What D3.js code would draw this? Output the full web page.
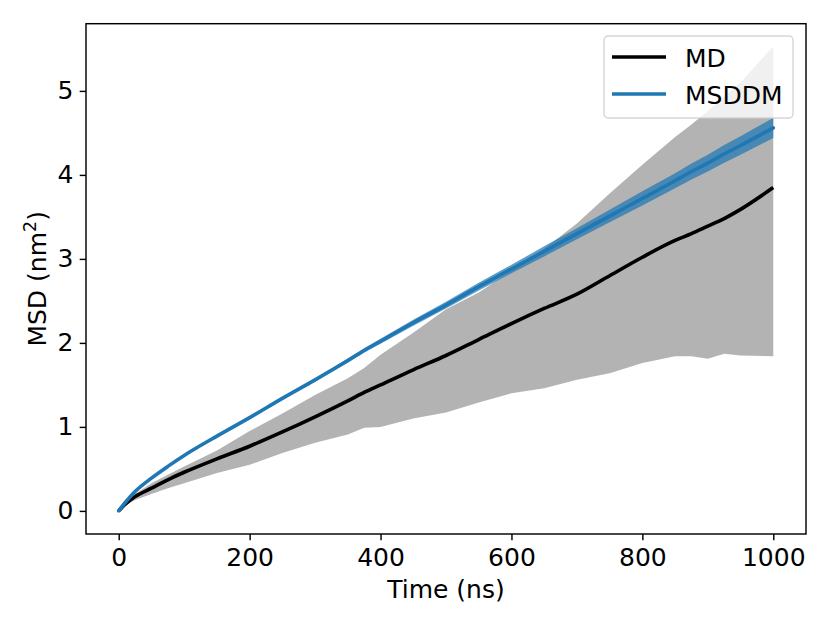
<!DOCTYPE html>
<html>
<head>
<meta charset="utf-8">
<script src="https://cdn.jsdelivr.net/npm/d3@7"></script>
<style>
  body { margin: 0; background: #fff; }
  svg { font-family: "DejaVu Sans", sans-serif; }
</style>
</head>
<body>
<svg id="chart" width="830" height="623"></svg>
<script>
// Time points (ns)
const times = [0, 10, 25, 50, 75, 100, 150, 200, 250, 300, 350, 375, 400, 450, 500,
               550, 600, 650, 700, 750, 800, 850, 875, 900, 925, 950, 1000];

// MD mean MSD and its spread (nm^2)
const mdMean  = [0, 0.08, 0.17, 0.27, 0.37, 0.46, 0.62, 0.77, 0.94, 1.12, 1.31, 1.41, 1.50, 1.68, 1.85,
                 2.04, 2.23, 2.41, 2.58, 2.80, 3.02, 3.22, 3.30, 3.39, 3.48, 3.59, 3.85];
const mdUpper = [0, 0.10, 0.20, 0.33, 0.43, 0.53, 0.72, 0.95, 1.16, 1.38, 1.58, 1.70, 1.86, 2.12, 2.40,
                 2.60, 2.86, 3.12, 3.42, 3.78, 4.12, 4.45, 4.60, 4.76, 4.93, 5.10, 5.53];
const mdLower = [0, 0.06, 0.13, 0.20, 0.27, 0.33, 0.45, 0.55, 0.69, 0.81, 0.91, 0.99, 1.00, 1.10, 1.17,
                 1.29, 1.40, 1.46, 1.56, 1.64, 1.76, 1.84, 1.84, 1.81, 1.87, 1.85, 1.84];

// MSDDM prediction and its band
const msddm   = [0, 0.10, 0.23, 0.39, 0.53, 0.66, 0.89, 1.11, 1.34, 1.56, 1.79, 1.91, 2.02, 2.24, 2.45,
                 2.67, 2.88, 3.09, 3.30, 3.51, 3.72, 3.93, 4.04, 4.14, 4.25, 4.35, 4.56];
const msddmHi = [0, 0.10, 0.23, 0.395, 0.535, 0.67, 0.90, 1.125, 1.355, 1.58, 1.815, 1.935, 2.05, 2.275, 2.49,
                 2.715, 2.93, 3.15, 3.365, 3.585, 3.805, 4.02, 4.135, 4.24, 4.355, 4.46, 4.68];
const msddmLo = [0, 0.10, 0.23, 0.385, 0.525, 0.65, 0.88, 1.095, 1.325, 1.54, 1.765, 1.885, 1.99, 2.205, 2.41,
                 2.625, 2.83, 3.03, 3.235, 3.435, 3.635, 3.84, 3.945, 4.04, 4.145, 4.24, 4.44];

const xTicks = [0, 200, 400, 600, 800, 1000];
const yTicks = [0, 1, 2, 3, 4, 5];
const seriesNames = ["MD", "MSDDM"];
const seriesColors = ["#000000", "#1f77b4"];

// Axes box in page pixels
const margin = { top: 23.7, right: 24, bottom: 89, left: 86 };
const W = 830, H = 623;
const w = W - margin.left - margin.right;
const h = H - margin.top - margin.bottom;
const fs = 25;
const lw = 3.6;

const svg = d3.select("#chart");
const g = svg.append("g")
    .attr("transform", "translate(" + margin.left + "," + margin.top + ")");

const x = d3.scaleLinear().domain([-50, 1050]).range([0, w]);
const y = d3.scaleLinear().domain([-0.275, 5.8]).range([h, 0]);

const rows = times.map((t, i) => ({
    t: t, md: mdMean[i], hi: mdUpper[i], lo: mdLower[i],
    m: msddm[i], mhi: msddmHi[i], mlo: msddmLo[i]
}));

g.append("clipPath").attr("id", "clip")
  .append("rect").attr("width", w).attr("height", h);

const plot = g.append("g").attr("clip-path", "url(#clip)");

// MD spread
plot.append("path")
    .datum(rows)
    .attr("fill", "#808080")
    .attr("fill-opacity", 0.6)
    .attr("d", d3.area().x(d => x(d.t)).y0(d => y(d.lo)).y1(d => y(d.hi)));

// MSDDM band
plot.append("path")
    .datum(rows)
    .attr("fill", seriesColors[1])
    .attr("fill-opacity", 0.72)
    .attr("d", d3.area().x(d => x(d.t)).y0(d => y(d.mlo)).y1(d => y(d.mhi)));

// lines
plot.append("path")
    .datum(rows)
    .attr("fill", "none")
    .attr("stroke", seriesColors[0])
    .attr("stroke-width", lw)
    .attr("stroke-linejoin", "round")
    .attr("d", d3.line().x(d => x(d.t)).y(d => y(d.md)).curve(d3.curveMonotoneX));

plot.append("path")
    .datum(rows)
    .attr("fill", "none")
    .attr("stroke", seriesColors[1])
    .attr("stroke-width", lw)
    .attr("stroke-linejoin", "round")
    .attr("stroke-linecap", "round")
    .attr("d", d3.line().x(d => x(d.t)).y(d => y(d.m)).curve(d3.curveMonotoneX));

// axes
const xAxis = g.append("g")
    .attr("transform", "translate(0," + h + ")")
    .call(d3.axisBottom(x).tickValues(xTicks).tickFormat(d3.format("d"))
        .tickSize(6.3).tickPadding(6.3).tickSizeOuter(0));
const yAxis = g.append("g")
    .call(d3.axisLeft(y).tickValues(yTicks).tickFormat(d3.format("d"))
        .tickSize(6.3).tickPadding(6.3).tickSizeOuter(0));

[xAxis, yAxis].forEach(a => {
    a.select(".domain").remove();
    a.selectAll(".tick line").attr("stroke", "#000").attr("stroke-width", 1.44);
    a.selectAll(".tick text")
        .attr("fill", "#000")
        .style("font-size", fs + "px")
        .style("font-family", "DejaVu Sans");
});
xAxis.selectAll(".tick text").attr("dy", "0.76em");

// spines
g.append("rect")
    .attr("width", w).attr("height", h)
    .attr("fill", "none")
    .attr("stroke", "#000")
    .attr("stroke-width", 1.44);

// axis labels
g.append("text")
    .attr("x", w / 2)
    .attr("y", h + 64)
    .attr("text-anchor", "middle")
    .style("font-size", fs + "px")
    .text("Time (ns)");

const yl = g.append("text")
    .attr("transform", "rotate(-90)")
    .attr("x", -h / 2)
    .attr("y", -40)
    .attr("text-anchor", "middle")
    .style("font-size", fs + "px");
yl.append("tspan").text("MSD (nm");
yl.append("tspan").attr("baseline-shift", "super").style("font-size", "17.5px").text("2");
yl.append("tspan").text(")");

// legend
const lg = svg.append("g").attr("transform", "translate(604,36)");
lg.append("rect")
    .attr("width", 189).attr("height", 82)
    .attr("rx", 4).attr("ry", 4)
    .attr("fill", "#fff").attr("fill-opacity", 0.8)
    .attr("stroke", "#cccccc").attr("stroke-opacity", 0.8)
    .attr("stroke-width", 1.44);

seriesNames.forEach((name, i) => {
    const yy = 21 + i * 37;
    lg.append("line")
        .attr("x1", 8).attr("x2", 62)
        .attr("y1", yy).attr("y2", yy)
        .attr("stroke", seriesColors[i])
        .attr("stroke-width", lw);
    lg.append("text")
        .attr("x", 81)
        .attr("y", yy + 9.5)
        .style("font-size", fs + "px")
        .text(name);
});
</script>
</body>
</html>
